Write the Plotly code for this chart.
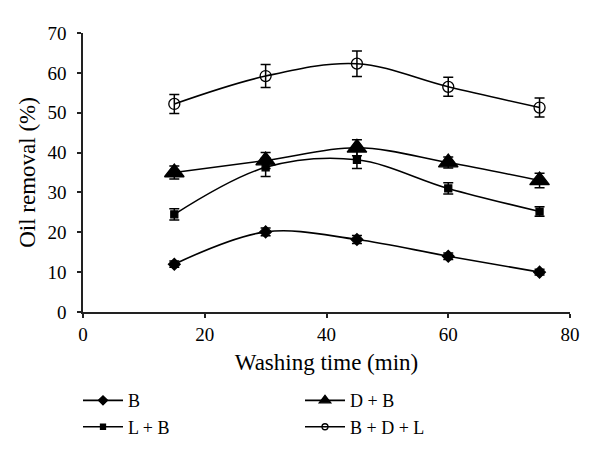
import plotly.graph_objects as go

time = [15, 30, 45, 60, 75]
b_vals = [12.0, 20.1, 18.2, 14.0, 10.0]
b_err = [0.8, 1.0, 1.0, 0.8, 0.7]
lb_vals = [24.5, 36.3, 38.2, 31.0, 25.2]
lb_err = [1.4, 2.3, 2.2, 1.4, 1.2]
db_vals = [35.0, 38.0, 41.2, 37.5, 33.0]
db_err = [1.6, 2.0, 2.0, 1.4, 1.8]
bdl_vals = [52.2, 59.2, 62.3, 56.5, 51.3]
bdl_err = [2.4, 2.9, 3.2, 2.4, 2.4]

# name, values, errors, symbol, plot marker size, legend marker size
series = [
    ("B", b_vals, b_err, "diamond", 9, 7),
    ("D + B", db_vals, db_err, "triangle-up", 17, 10),
    ("L + B", lb_vals, lb_err, "square", 7, 5),
    ("B + D + L", bdl_vals, bdl_err, "circle-open", 11, 6),
]

fig = go.Figure()
for name, vals, err, sym, size, lsize in series:
    fig.add_trace(go.Scatter(
        x=time, y=vals, name=name, mode="lines+markers", showlegend=False,
        line=dict(color="black", width=1.6, shape="spline", smoothing=1.0),
        marker=dict(symbol=sym, size=size, color="black",
                    line=dict(color="black", width=1.3)),
        error_y=dict(type="data", array=err, color="black", thickness=1.5, width=5),
    ))
for name, vals, err, sym, size, lsize in series:
    fig.add_trace(go.Scatter(
        x=[None], y=[None], name=name, mode="lines+markers", showlegend=True,
        line=dict(color="black", width=1.6),
        marker=dict(symbol=sym, size=lsize, color="black",
                    line=dict(color="black", width=1.3)),
    ))

font_family = "Liberation Serif, Times New Roman, serif"
fig.update_layout(
    width=600, height=458,
    margin=dict(l=83, r=30, t=33, b=146, autoexpand=False),
    plot_bgcolor="white", paper_bgcolor="white",
    font=dict(family=font_family, size=19, color="black"),
    showlegend=True,
    legend=dict(orientation="h", xref="container", yref="container",
                x=0.13, y=0.1656, xanchor="left", yanchor="top",
                entrywidth=167, entrywidthmode="pixels",
                font=dict(size=18), tracegroupgap=0, itemwidth=40),
    xaxis=dict(range=[0, 80], tickvals=[0, 20, 40, 60, 80], showline=True,
               linecolor="#222", linewidth=1.5, ticks="outside", ticklen=4,
               tickwidth=1.5, tickcolor="#222", showgrid=False, zeroline=False,
               automargin=False,
               title=dict(text="Washing time (min)", standoff=10)),
    yaxis=dict(range=[0, 70], tickvals=[0, 10, 20, 30, 40, 50, 60, 70], showline=True,
               linecolor="#222", linewidth=1.5, ticks="outside", ticklen=4,
               tickwidth=1.5, tickcolor="#222", showgrid=False, zeroline=False,
               automargin=False, ticklabelstandoff=7,
               title=dict(text="Oil removal (%)", standoff=5)),
)
fig.write_html("out.html", config={"displayModeBar": False},
               post_script="document.body.style.margin='0';")
